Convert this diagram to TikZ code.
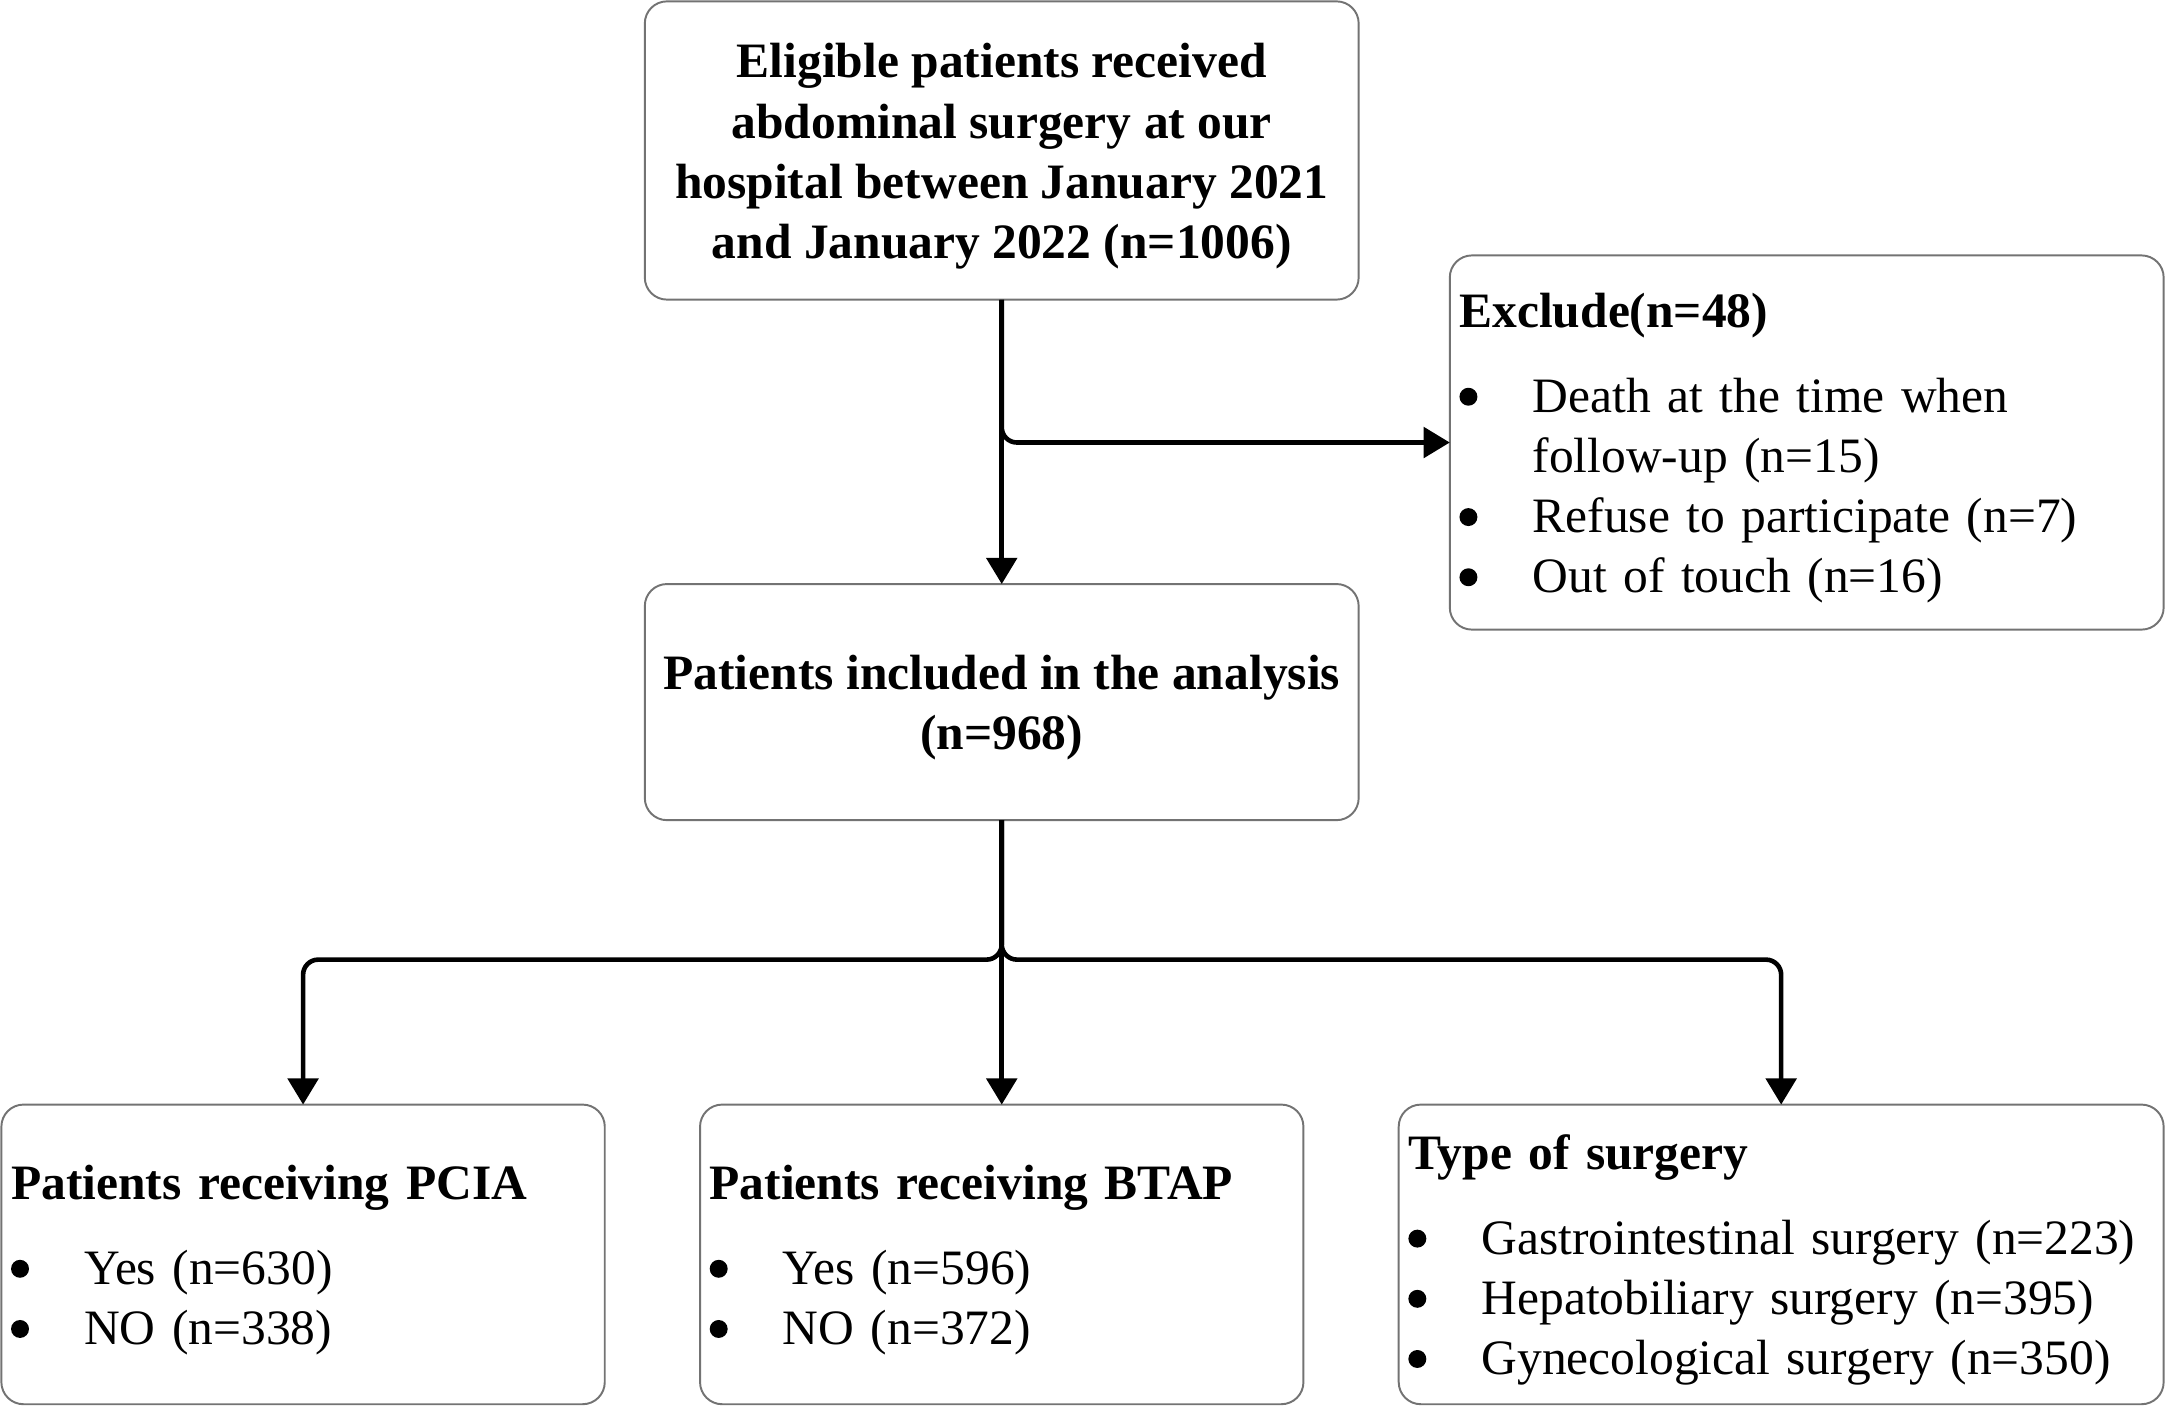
\documentclass[tikz,border=0pt]{standalone}
\usepackage{fontspec}
\setmainfont{Liberation Serif}
\usepackage{tikz}
\usetikzlibrary{arrows.meta}
\newcommand{\dotmark}{\tikz[baseline=0pt]\fill (1.85pt,3.2pt) circle[radius=1.85pt];}
\newcommand{\bul}[1]{\makebox[5.3mm][l]{\dotmark}#1}
\newcommand{\topfix}{\rule{0pt}{9.5pt}}

\begin{document}
\begin{tikzpicture}[font=\fontsize{10.2}{12.4}\selectfont,
    box/.style={draw=black!55,line width=0.4pt,rounded corners=0.16cm,inner xsep=0.07cm,inner ysep=0,outer sep=0},
    boldbox/.style={box,align=center,minimum width=5.17cm,font=\fontsize{10.2}{12.4}\selectfont\bfseries},
    arr/.style={line width=0.95pt,-{Triangle[length=1.9mm,width=2.2mm]}}]
    \useasboundingbox (0,0) rectangle (15.68,-10.176);
    \node[boldbox,minimum height=2.16cm] (elig) at (7.255,-1.09)
        {\topfix Eligible patients received\\ abdominal surgery at our\\ hospital between January 2021\\ and January 2022 (n=1006)};
    \node[box,align=left,text width=5.03cm,minimum height=2.71cm] (excl) at (13.085,-3.205)
        {\topfix\textbf{Exclude(n=48)}\\[5pt]
         \bul{Death at the time when}\\ \hspace*{5.3mm}follow-up (n=15)\\
         \bul{Refuse to participate (n=7)}\\
         \bul{Out of touch (n=16)}};
    \node[boldbox,minimum height=1.71cm] (incl) at (7.255,-5.085)
        {\topfix Patients included in the analysis\\ (n=968)};
    \node[box,align=left,text width=4.23cm,minimum height=2.17cm] (pcia) at (2.195,-9.085)
        {\topfix\textbf{Patients receiving PCIA}\\[5pt]
         \bul{Yes (n=630)}\\
         \bul{NO (n=338)}};
    \node[box,align=left,text width=4.23cm,minimum height=2.17cm] (btap) at (7.255,-9.085)
        {\topfix\textbf{Patients receiving BTAP}\\[5pt]
         \bul{Yes (n=596)}\\
         \bul{NO (n=372)}};
    \node[box,align=left,text width=5.40cm,minimum height=2.17cm] (surg) at (12.9,-9.085)
        {\topfix\textbf{Type of surgery}\\[5pt]
         \bul{Gastrointestinal surgery (n=223)}\\
         \bul{Hepatobiliary surgery (n=395)}\\
         \bul{Gynecological surgery (n=350)}};
    \draw[arr] (elig.south) -- (incl.north);
    \draw[arr,rounded corners=0.11cm] (elig.south) |- (excl.west);
    \draw[arr] (incl.south) -- (btap.north);
    \draw[arr,rounded corners=0.11cm] (incl.south) |- ([yshift=1.05cm]pcia.north) -- (pcia.north);
    \draw[arr,rounded corners=0.11cm] (incl.south) |- ([yshift=1.05cm]surg.north) -- (surg.north);
\end{tikzpicture}
\end{document}
